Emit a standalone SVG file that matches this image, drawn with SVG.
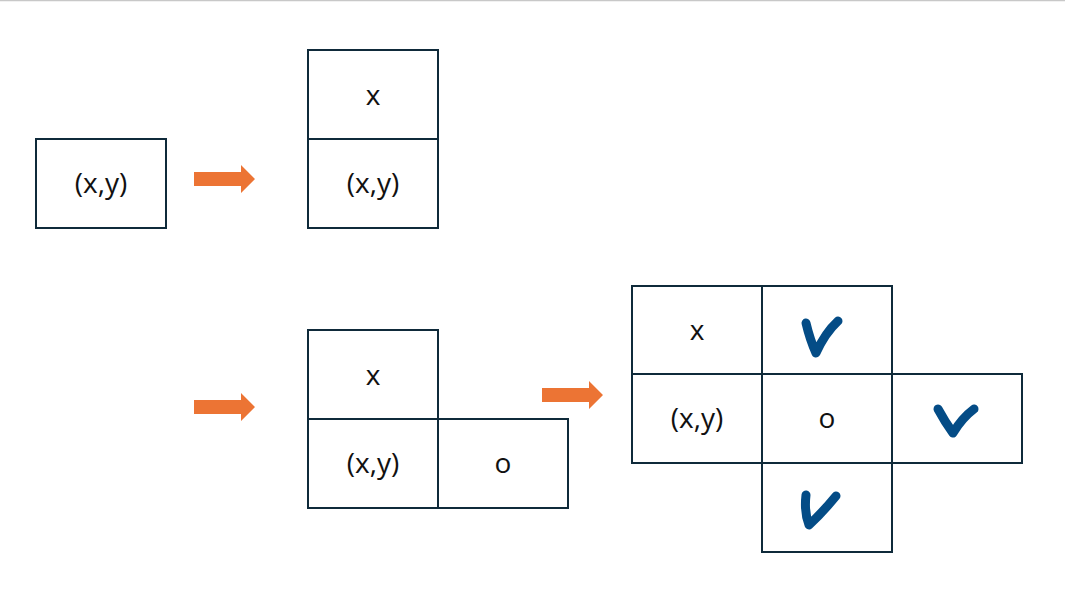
<svg xmlns="http://www.w3.org/2000/svg" width="1065" height="603" viewBox="0 0 1065 603">
<style>
.c{fill:#fff;stroke:#0f2a3a;stroke-width:2}
.t{font-family:"Open Sans","Liberation Sans",sans-serif;font-size:28px;fill:#111;text-anchor:middle;dominant-baseline:central}
.a{fill:#ec7434}
.k{fill:none;stroke:#044c86;stroke-width:9;stroke-linecap:round;stroke-linejoin:round}
</style>
<defs>
<path id="arr" class="a" d="M0,-7H47V-14L61,0L47,14V7H0Z"/>
</defs>
<rect width="1065" height="603" fill="#fff"/>
<line x1="0" y1="0.5" x2="1065" y2="0.5" stroke="#c8c8c8" stroke-width="1.5"/>
<g id="connectors">
<use href="#arr" x="194" y="179"/>
<use href="#arr" x="194" y="407"/>
<use href="#arr" x="542" y="395"/>
</g>
<g id="n1"><rect class="c" x="36" y="139" width="130" height="89"/><text class="t" x="101" y="182">(x,y)</text></g>
<g id="n2">
<rect class="c" x="308" y="50" width="130" height="89"/><text class="t" x="373" y="94">x</text>
<rect class="c" x="308" y="139" width="130" height="89"/><text class="t" x="373" y="182">(x,y)</text>
</g>
<g id="n3">
<rect class="c" x="308" y="330" width="130" height="89"/><text class="t" x="373" y="374">x</text>
<rect class="c" x="308" y="419" width="130" height="89"/><text class="t" x="373" y="462">(x,y)</text>
<rect class="c" x="438" y="419" width="130" height="89"/><text class="t" x="503" y="462">o</text>
</g>
<g id="n4">
<rect class="c" x="632" y="286" width="130" height="88"/><text class="t" x="697" y="329">x</text>
<rect class="c" x="762" y="286" width="130" height="88"/>
<rect class="c" x="632" y="374" width="130" height="89"/><text class="t" x="697" y="417">(x,y)</text>
<rect class="c" x="762" y="374" width="130" height="89"/><text class="t" x="827" y="417">o</text>
<rect class="c" x="892" y="374" width="130" height="89"/>
<rect class="c" x="762" y="463" width="130" height="89"/>
<path class="k" d="M806,323 Q810,340 816,353 Q825,333 838,321"/>
<path class="k" d="M938,409 Q945,422 953,433 Q962,418 974,409"/>
<path class="k" d="M806,495 Q804,512 809,525 Q822,513 836,496"/>
</g>
</svg>
